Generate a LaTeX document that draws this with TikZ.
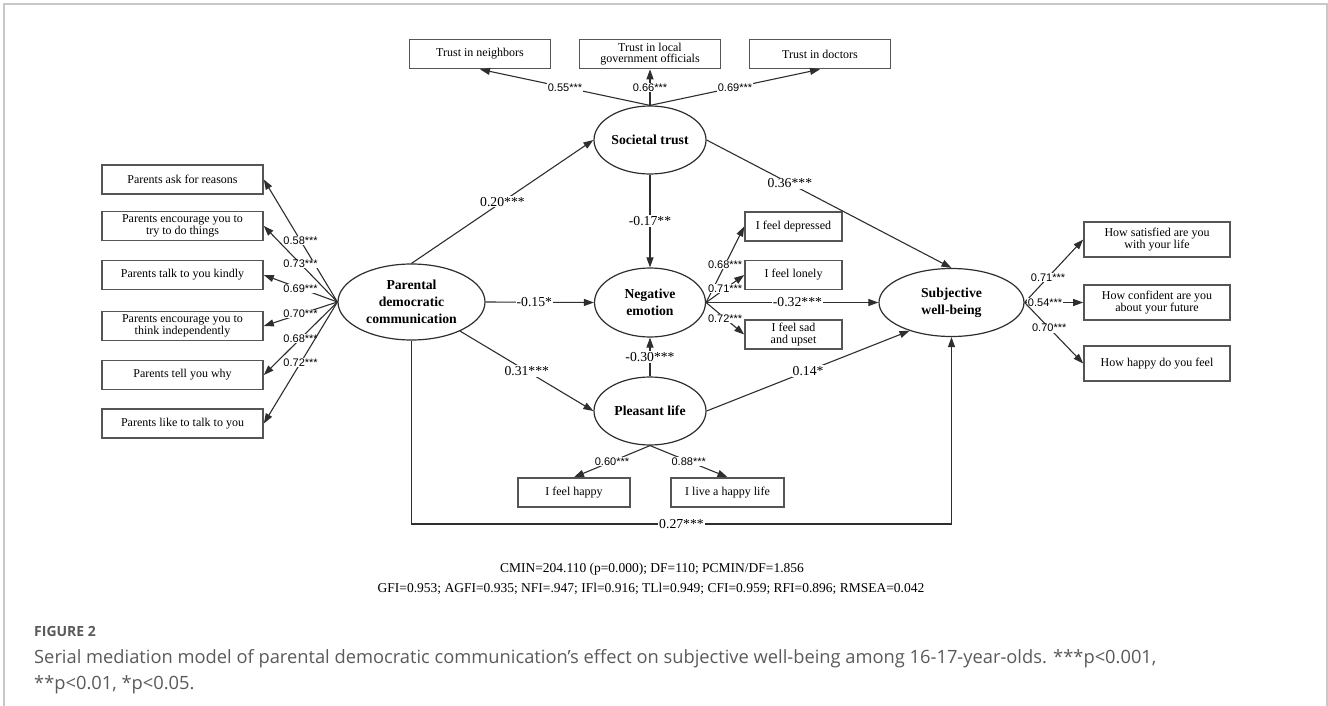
\documentclass[tikz,border=0pt]{standalone}
\usepackage{fontspec}
\setmainfont{Liberation Serif}
\newfontfamily\labfont{Liberation Sans}
\newfontfamily\capfont{Open Sans}
\usetikzlibrary{shapes.geometric,arrows.meta}
\definecolor{lncol}{HTML}{2E2E2E}
\definecolor{boxcol}{HTML}{555555}
\definecolor{capcol}{HTML}{5A5A5A}
\definecolor{framecol}{HTML}{C8C8C8}
\begin{document}
\begin{tikzpicture}[x=1pt,y=-1pt,
  lat/.style={ellipse,draw=lncol,line width=1.2pt,inner sep=0pt,align=center,
              font=\fontsize{13.7}{17}\selectfont\bfseries},
  obs/.style={rectangle,draw=boxcol,line width=1.6pt,inner sep=0pt,align=center,
              font=\fontsize{12}{11.7}\selectfont},
  arr/.style={draw=lncol,line width=1.1pt,-{Triangle[length=10pt,width=7pt]}},
  pc/.style={fill=white,inner sep=1pt,font=\fontsize{13.7}{14}\selectfont},
  ld/.style={fill=white,inner sep=0.5pt,font=\labfont\fontsize{11}{12}\selectfont},
  captext/.style={anchor=base west,inner sep=0pt,text=capcol,font=\capfont\fontsize{18.3}{20}\selectfont},
]
\useasboundingbox (0,0) rectangle (1328,706);
\draw[framecol,line width=1.2pt] (4,706) -- (4,4) -- (1327,4) -- (1327,706);

% latent variables
\node[lat,minimum width=112pt,minimum height=68pt] (st) at (650,140) {Societal trust};
\node[lat,minimum width=147pt,minimum height=76pt] (pdc) at (411.5,302) {Parental\\democratic\\communication};
\node[lat,minimum width=111pt,minimum height=69pt] (ne) at (650,302.5) {Negative\\emotion};
\node[lat,minimum width=112pt,minimum height=68pt] (pl) at (650,411) {Pleasant life};
\node[lat,minimum width=145pt,minimum height=68pt] (swb) at (951.5,302.5) {Subjective\\well-being};

% trust indicators
\node[obs,minimum width=141pt,minimum height=29pt] (tn) at (480,54) {Trust in neighbors};
\node[obs,minimum width=141pt,minimum height=29pt] (tg) at (650,54) {Trust in local\\government officials};
\node[obs,minimum width=141pt,minimum height=29pt] (td) at (820,54) {Trust in doctors};

% parental indicators
\node[obs,minimum width=161pt,minimum height=29pt] (p1) at (182.5,179.5) {Parents ask for reasons};
\node[obs,minimum width=161pt,minimum height=29pt] (p2) at (182.5,226) {Parents encourage you to\\try to do things};
\node[obs,minimum width=161pt,minimum height=29pt] (p3) at (182.5,275) {Parents talk to you kindly};
\node[obs,minimum width=161pt,minimum height=29pt] (p4) at (182.5,326) {Parents encourage you to\\think independently};
\node[obs,minimum width=161pt,minimum height=29pt] (p5) at (182.5,375) {Parents tell you why};
\node[obs,minimum width=161pt,minimum height=29pt] (p6) at (182.5,423.5) {Parents like to talk to you};

% negative emotion indicators
\node[obs,minimum width=97pt,minimum height=29pt] (n1) at (793.5,226.5) {I feel depressed};
\node[obs,minimum width=97pt,minimum height=29pt] (n2) at (793.5,275) {I feel lonely};
\node[obs,minimum width=97pt,minimum height=29pt] (n3) at (793.5,334.5) {I feel sad\\and upset};

% pleasant life indicators
\node[obs,minimum width=112pt,minimum height=29pt] (h1) at (574,492.5) {I feel happy};
\node[obs,minimum width=113pt,minimum height=29pt] (h2) at (727.5,492.5) {I live a happy life};

% well-being indicators
\node[obs,minimum width=146pt,minimum height=35pt] (s1) at (1157,239.5) {How satisfied are you\\with your life};
\node[obs,minimum width=146pt,minimum height=35pt] (s2) at (1157,302.5) {How confident are you\\about your future};
\node[obs,minimum width=146pt,minimum height=35pt] (s3) at (1157,363.5) {How happy do you feel};

% loadings
\draw[arr] (st.north) -- node[ld]{0.55***} (tn.south);
\draw[arr] (st.north) -- node[ld]{0.66***} (tg.south);
\draw[arr] (st.north) -- node[ld]{0.69***} (td.south);

\draw[arr] (pdc.west) -- node[ld]{0.58***} (p1.east);
\draw[arr] (pdc.west) -- node[ld]{0.73***} (p2.east);
\draw[arr] (pdc.west) -- node[ld]{0.69***} (p3.east);
\draw[arr] (pdc.west) -- node[ld]{0.70***} (p4.east);
\draw[arr] (pdc.west) -- node[ld]{0.68***} (p5.east);
\draw[arr] (pdc.west) -- node[ld]{0.72***} (p6.east);

\draw[arr] (ne.east) -- node[ld]{0.68***} (n1.west);
\draw[arr] (ne.east) -- node[ld]{0.71***} (n2.west);
\draw[arr] (ne.east) -- node[ld]{0.72***} (n3.west);

\draw[arr] (pl.south) -- node[ld]{0.60***} (h1.north);
\draw[arr] (pl.south) -- node[ld]{0.88***} (h2.north);

\draw[arr] (swb.east) -- node[ld,pos=0.4]{0.71***} (s1.west);
\draw[arr] (swb.east) -- node[ld,pos=0.35]{0.54***} (s2.west);
\draw[arr] (swb.east) -- node[ld,pos=0.42]{0.70***} (s3.west);

% structural paths
\draw[arr] (pdc.north) -- node[pc]{0.20***} (st.west);
\draw[arr] (st.east) -- node[pc,pos=0.34]{0.36***} (swb.north);
\draw[arr] (st.south) -- node[pc]{-0.17**} (ne.north);
\draw[arr] (pdc.east) -- node[pc,pos=0.45]{-0.15*} (ne.west);
\draw[arr] (pdc) -- node[pc]{0.31***} (pl.west);
\draw[arr] (pl.north) -- node[pc]{-0.30***} (ne.south);
\draw[arr] (ne.east) -- node[pc,pos=0.53]{-0.32***} (swb.west);
\draw[arr] (pl.east) -- node[pc]{0.14*} (swb.214);
\coordinate (bl) at (411.5,524);
\coordinate (br) at (951.5,524);
\draw[arr] (pdc.south) -- (bl) -- node[pc,pos=0.5]{0.27***} (br) -- (swb.south);

% fit statistics
\node[font=\fontsize{13.5}{14}\selectfont] (fit1) at (652,569) {CMIN=204.110 (p=0.000); DF=110; PCMIN/DF=1.856};
\node[font=\fontsize{13.5}{14}\selectfont] (fit2) at (651,589) {GFI=0.953; AGFI=0.935; NFI=.947; IFl=0.916; TLl=0.949; CFI=0.959; RFI=0.896; RMSEA=0.042};

% caption
\node[anchor=base west,inner sep=0pt,text=capcol,font=\capfont\bfseries\fontsize{14}{16}\selectfont] (fig) at (34,636) {FIGURE 2};
\node[captext] (cap1) at (34,663) {Serial mediation model of parental democratic communication’s effect on subjective well-being among 16-17-year-olds. ***p<0.001,};
\node[captext] (cap2) at (34,689) {**p<0.01, *p<0.05.};
\end{tikzpicture}
\end{document}
